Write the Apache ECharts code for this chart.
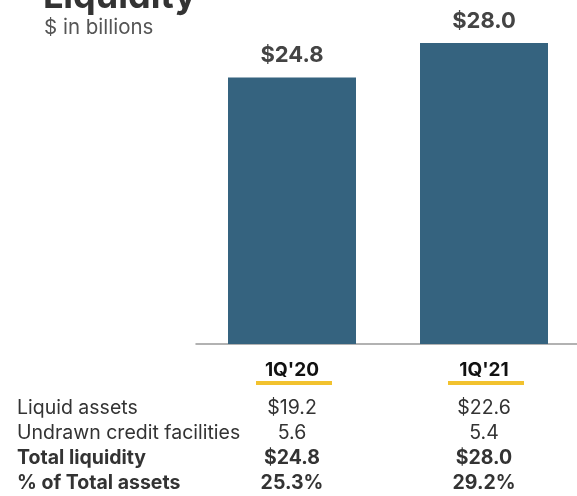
<!DOCTYPE html>
<html lang="en">
<head>
    <meta charset="UTF-8">
    <title>Liquidity</title>
    <script src="https://cdn.jsdelivr.net/npm/echarts@6/dist/echarts.min.js"></script>
    <style>
        body { margin: 0; background: #fff; }
    </style>
</head>
<body>
<div id="main" style="width:577px;height:496px"></div>
<script type="text/javascript">

    var quarters = ["1Q'20", "1Q'21"];
    var totalLiquidity = [24.8, 28.0];
    var barLabels = ['$24.8', '$28.0'];

    var rowNames = ['Liquid assets', 'Undrawn credit facilities', 'Total liquidity', '% of Total assets'];
    var rowBold = [false, false, true, true];
    var col1Values = ['$19.2', '5.6', '$24.8', '25.3%'];
    var col2Values = ['$22.6', '5.4', '$28.0', '29.2%'];

    var font = 'Inter';
    var chart = echarts.init(document.getElementById('main'));

    var option = {
        animation: false,
        grid: { left: 196, top: 0, width: 384, bottom: 152, outerBoundsMode: 'none', containLabel: false },
        xAxis: {
            type: 'category',
            data: quarters,
            axisTick: { show: false },
            axisLine: { lineStyle: { color: '#999', width: 1.5 } },
            axisLabel: {
                margin: 17,
                color: '#111',
                fontFamily: font,
                fontWeight: 'bold',
                fontSize: 19
            }
        },
        yAxis: {
            type: 'value',
            min: 0,
            max: 32,
            show: false
        },
        series: [{
            type: 'bar',
            data: totalLiquidity,
            barWidth: 128,
            itemStyle: { color: '#35637f' },
            label: {
                show: true,
                position: 'top',
                distance: 11,
                formatter: function (p) { return barLabels[p.dataIndex]; },
                color: '#444',
                fontFamily: font,
                fontWeight: 'bold',
                fontSize: 22
            }
        }]
    };
    chart.setOption(option);

    // heading and table built from the arrays, columns follow the category axis
    var graphics = [
        { type: 'text', left: 43, top: -21, style: { text: 'Liquidity', fontFamily: font, fontWeight: 'bold', fontSize: 36, fill: '#333' } },
        { type: 'text', left: 44, top: 17, style: { text: '$ in billions', fontFamily: font, fontSize: 20.5, fill: '#555' } }
    ];
    quarters.forEach(function (q, i) {
        var cx = chart.convertToPixel({ xAxisIndex: 0 }, i) + 2;
        graphics.push({ type: 'line', shape: { x1: cx - 38, y1: 383, x2: cx + 38, y2: 383 }, style: { stroke: '#f2c22e', lineWidth: 4 } });
    });
    var rowY = [408, 433, 458, 483];
    rowNames.forEach(function (name, r) {
        var weight = rowBold[r] ? 'bold' : 'normal';
        graphics.push({ type: 'text', x: 17, y: rowY[r], style: { text: name, fontFamily: font, fontWeight: weight, fontSize: 19.5, fill: '#333', verticalAlign: 'middle' } });
        [col1Values, col2Values].forEach(function (col, i) {
            var cx = chart.convertToPixel({ xAxisIndex: 0 }, i);
            graphics.push({ type: 'text', x: cx, y: rowY[r], style: { text: col[r], fontFamily: font, fontWeight: weight, fontSize: 19.5, fill: '#333', align: 'center', verticalAlign: 'middle' } });
        });
    });
    chart.setOption({ graphic: graphics });

</script>
</body>
</html>
